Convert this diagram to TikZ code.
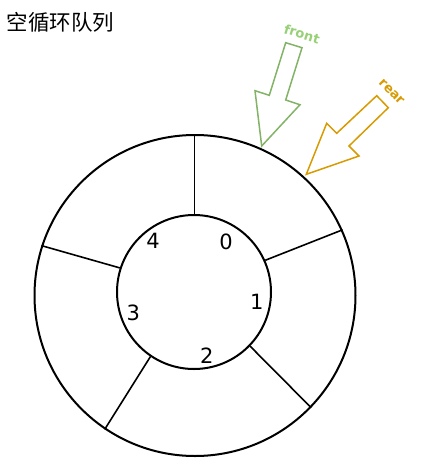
\documentclass[tikz,border=0pt]{standalone}
\usepackage{fontspec}
\setmainfont{DejaVu Sans}
\newfontfamily\cjk{Noto Sans CJK SC}
\usetikzlibrary{positioning}
\definecolor{frontgreen}{HTML}{82B366}
\definecolor{frontlabel}{HTML}{97D077}
\definecolor{rearorange}{HTML}{D79B00}

\begin{document}
\begin{tikzpicture}[x=1pt,y=1pt,
ring/.style = {draw,circle,line width=2pt,inner sep=0pt},
slot/.style = {font=\fontsize{21}{21}\selectfont},
tag/.style  = {font=\bfseries\fontsize{13}{13}\selectfont,inner sep=1pt}
                        ]
\useasboundingbox (0,0) rectangle (430,-467);
\node (title) [anchor=west,font=\cjk\fontsize{21.5}{21.5}\selectfont] at (3,-22) {空循环队列};
\node (outer) [ring,minimum size=321pt] at (195,-295.5) {};
\node (inner) [ring,minimum size=154pt] at (194,-292) {};

%
\draw[line width=1pt] (inner.north) -- (inner.north |- outer.north);
\foreach \a in {24,-44,-124,162}
\draw[line width=1.6pt] (inner.\a) -- (outer.\a);

%
\foreach \i/\x/\y in {0/226/-242, 1/256.7/-301.7, 2/206.7/-356, 3/133.3/-312.7, 4/153/-240.7}
\node (slot\i) [slot] at (\x,\y) {\i};

%
\draw[frontgreen,line width=1.5pt] (285.7,-42.7) -- (302,-47.7) -- (285.7,-100) -- (300,-104.7)
    -- (261.7,-146) -- (255,-90.7) -- (269.3,-95.3) -- cycle;
\node (front) [tag,text=frontlabel,rotate=-17] at (302,-34) {front};

\draw[rearorange,line width=1.5pt] (376.7,-95.7) -- (388.3,-107.7) -- (349,-146) -- (359,-156)
    -- (306.3,-174.3) -- (326.7,-123.3) -- (336.7,-133.3) -- cycle;
\node (rear) [tag,text=rearorange,rotate=-45] at (391.5,-92) {rear};
\end{tikzpicture}
\end{document}
